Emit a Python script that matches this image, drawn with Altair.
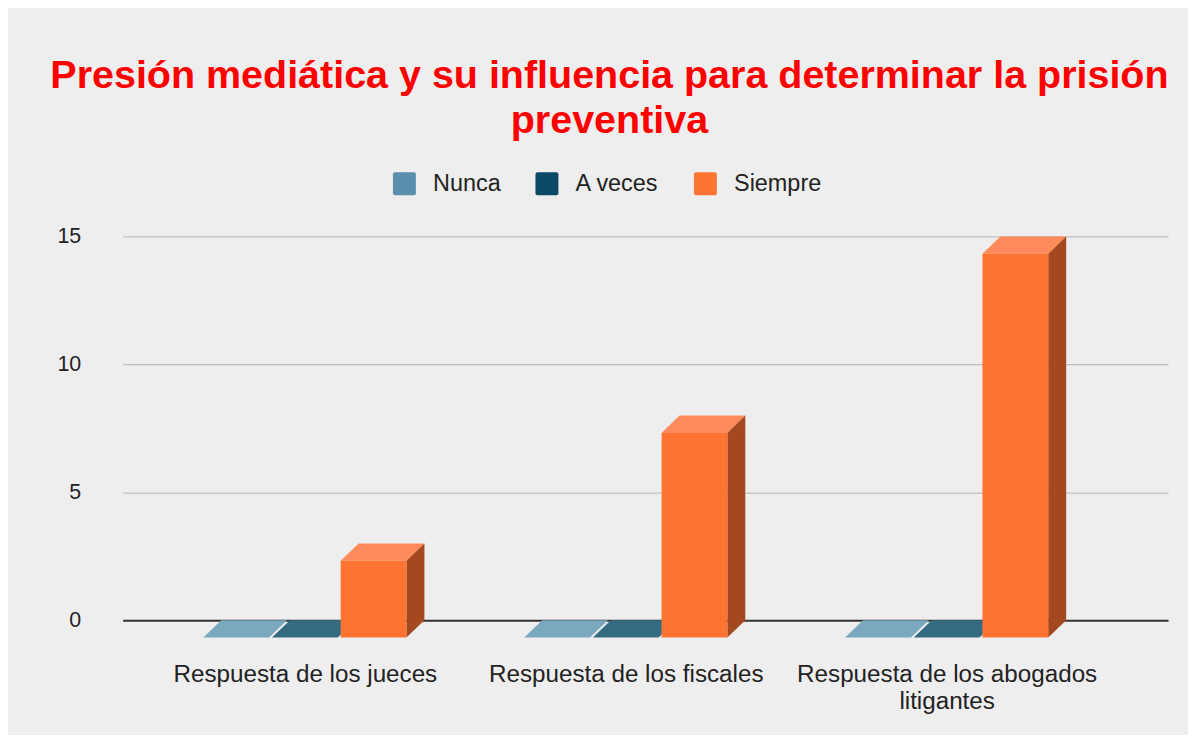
import altair as alt
import pandas as pd

# ---- data ----
categories = ["Respuesta de los jueces", "Respuesta de los fiscales",
              "Respuesta de los abogados litigantes"]
label_lines = [["Respuesta de los jueces"], ["Respuesta de los fiscales"],
               ["Respuesta de los abogados", "litigantes"]]
series = ["Nunca", "A veces", "Siempre"]
nunca = [0, 0, 0]
a_veces = [0, 0, 0]
siempre = [3, 8, 15]
y_ticks = [0, 5, 10, 15]

# ---- styles ----
front_colors = ["#5b8fae", "#0b4a66", "#ff7433"]
top_colors = ["#7aa8be", "#346b83", "#ff8a5b"]
side_colors = ["#3f6479", "#073447", "#a4491f"]
FONT = "Liberation Sans"

# geometry in data units (3D look)
SLOT = 0.214
BAR_W = 0.205
DX = 0.056
DY = 0.68
X_DOMAIN = [-0.124, 3.134]
Y_DOMAIN = [-0.78, 15]

values = [nunca, a_veces, siempre]

front_rows, top_rows, side_rows = [], [], []
for i, cat in enumerate(categories):
    c = 0.5 + i
    for j, s in enumerate(series):
        v = values[j][i]
        xc = c + (j - 1) * SLOT
        xl, xr = xc - BAR_W / 2, xc + BAR_W / 2
        bid = f"{i}-{j}"
        front_rows.append(dict(cat=cat, serie=s, x=xl - DX, x2=xr - DX, y=-DY, y2=v - DY))
        # top face: horizontal-oriented area, two rows (front edge, back edge)
        top_rows.append(dict(bid=bid, y=v - DY, x=xl - DX, x2=xr - DX, col=top_colors[j]))
        top_rows.append(dict(bid=bid, y=v, x=xl, x2=xr, col=top_colors[j]))
        if v > 0:
            # side face: vertical-oriented area, two rows
            side_rows.append(dict(bid=bid, x=xr - DX, y=v - DY, y2=-DY, col=side_colors[j]))
            side_rows.append(dict(bid=bid, x=xr, y=v, y2=0, col=side_colors[j]))

front_df = pd.DataFrame(front_rows)
top_df = pd.DataFrame(top_rows)
side_df = pd.DataFrame(side_rows)

label_pos = [0.5 + i - DX for i in range(len(categories))]
expr = ""
for i, lines in enumerate(label_lines[:-1]):
    arr = "[" + ",".join(f"'{t}'" for t in lines) + "]"
    expr += f"datum.value < {i + 1} ? {arr} : "
expr += "[" + ",".join(f"'{t}'" for t in label_lines[-1]) + "]"

x_axis = alt.Axis(values=label_pos, labelExpr=expr, title=None, grid=False, ticks=False,
                  domain=False, labelFontSize=24.3, labelColor="#222222", labelFont=FONT,
                  labelPadding=23, labelLineHeight=27, labelAngle=0, labelOverlap=False,
                  labelFlush=False, labelLimit=1000)
y_axis = alt.Axis(values=y_ticks, title=None, ticks=False, domain=False, labelFontSize=21.5,
                  labelColor="#222222", labelFont=FONT, labelPadding=42,
                  gridColor={"condition": {"test": "datum.value === 0", "value": "#333333"},
                             "value": "#bfbfbf"},
                  gridWidth={"condition": {"test": "datum.value === 0", "value": 2},
                             "value": 1.3})
xs = alt.Scale(domain=X_DOMAIN, nice=False, zero=False)
ys = alt.Scale(domain=Y_DOMAIN, nice=False, zero=False)

top = alt.Chart(top_df).mark_area(orient="horizontal").encode(
    y=alt.Y("y:Q", scale=ys, axis=y_axis),
    x=alt.X("x:Q", scale=xs, axis=x_axis, stack=None),
    x2="x2:Q",
    fill=alt.Fill("col:N", scale=None),
    detail="bid:N",
)
side = alt.Chart(side_df).mark_area(orient="vertical").encode(
    x=alt.X("x:Q", scale=xs, axis=x_axis),
    y=alt.Y("y:Q", scale=ys, axis=y_axis, stack=None),
    y2="y2:Q",
    fill=alt.Fill("col:N", scale=None),
    detail="bid:N",
)
rect_symbol = ("M -0.82 -1 H 0.82 Q 1 -1 1 -0.82 V 0.82 Q 1 1 0.82 1 H -0.82 "
               "Q -1 1 -1 0.82 V -0.82 Q -1 -1 -0.82 -1 Z")
front = alt.Chart(front_df).mark_rect(opacity=1).encode(
    x=alt.X("x:Q", scale=xs, axis=x_axis),
    x2="x2:Q",
    y=alt.Y("y:Q", scale=ys, axis=y_axis),
    y2="y2:Q",
    color=alt.Color("serie:N", scale=alt.Scale(domain=series, range=front_colors),
                    legend=alt.Legend(orient="none", legendX=271, legendY=-65,
                                      direction="horizontal", title=None,
                                      symbolType=rect_symbol, symbolSize=529,
                                      symbolStrokeWidth=0, symbolOpacity=1,
                                      labelFontSize=23.5, labelColor="#222222",
                                      labelFont=FONT, labelOffset=17, columnPadding=34,
                                      padding=0)),
)

chart = alt.layer(top, side, front).resolve_scale(color="independent", fill="independent").properties(
    width=1049,
    height=405,
    padding={"left": 115, "top": 228, "right": 20, "bottom": 94},
    autosize=alt.AutoSizeParams(type="none"),
    title=alt.TitleParams(
        text=["Presión mediática y su influencia para determinar la prisión", "preventiva"],
        fontSize=39.6, fontWeight="bold", color="#ff0000", font=FONT, lineHeight=45,
        anchor="middle", frame="group", dx=-36, offset=30),
).configure(background="#eeeeee").configure_view(strokeWidth=0)

chart.save("out.html", embed_options={"renderer": "svg", "actions": False})
